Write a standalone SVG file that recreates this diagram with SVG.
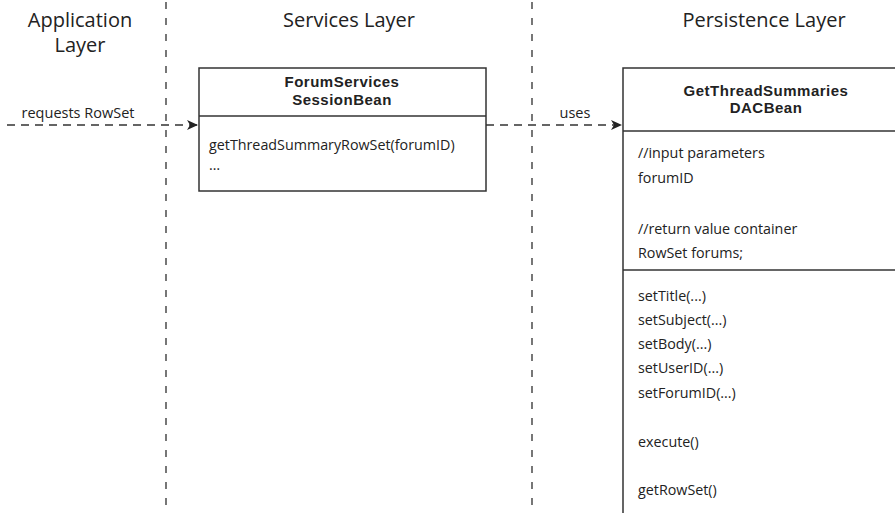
<svg xmlns="http://www.w3.org/2000/svg" width="895" height="513" viewBox="0 0 895 513">
<style>
.t{font-family:"Open Sans","Liberation Sans",sans-serif;fill:#222}
.h{font-size:20px;text-anchor:middle}
.b{font-family:"Liberation Sans",Arial,sans-serif;font-size:15px;font-weight:bold;text-anchor:middle;letter-spacing:0.5px}
.m{font-size:14.3px}
.lbl{font-size:14.5px}
.lane{stroke:#555;stroke-width:1.6;stroke-dasharray:7 9;fill:none}
.box{fill:#fff;stroke:#333;stroke-width:1.5}
.div{stroke:#333;stroke-width:1.5}
.con{stroke:#333;stroke-width:1.5;stroke-dasharray:8 6;fill:none}
</style>
<defs>
<marker id="ah" markerWidth="12" markerHeight="10" refX="11" refY="5" orient="auto" markerUnits="userSpaceOnUse">
<path d="M0,0 L11,5 L0,10 L3,5 z" fill="#222"/>
</marker>
</defs>
<g id="lanes">
<line class="lane" x1="166" y1="2" x2="166" y2="513"/>
<line class="lane" x1="532" y1="2" x2="532" y2="513"/>
<text class="t h" x="80" y="27"><tspan x="80" y="27">Application</tspan><tspan x="80" y="52">Layer</tspan></text>
<text class="t h" x="349" y="27">Services Layer</text>
<text class="t h" x="764" y="27">Persistence Layer</text>
</g>
<g id="forumServices">
<rect class="box" x="199" y="68" width="287" height="123"/>
<line class="div" x1="199" y1="116" x2="486" y2="116"/>
<text class="t b"><tspan x="342" y="87">ForumServices</tspan><tspan x="342" y="104.5">SessionBean</tspan></text>
<text class="t m" x="209" y="150">getThreadSummaryRowSet(forumID)</text>
<text class="t m" x="209" y="170">…</text>
</g>
<g id="dacBean">
<path class="box" d="M623,513 L623,68 L897,68 L897,513"/>
<line class="div" x1="623" y1="131" x2="897" y2="131"/>
<line class="div" x1="623" y1="270" x2="897" y2="270"/>
<text class="t b"><tspan x="766" y="95.5">GetThreadSummaries</tspan><tspan x="766" y="113">DACBean</tspan></text>
<text class="t m" x="638" y="158">//input parameters</text>
<text class="t m" x="638" y="183">forumID</text>
<text class="t m" x="638" y="234">//return value container</text>
<text class="t m" x="638" y="258">RowSet forums;</text>
<text class="t m" x="638" y="301">setTitle(...)</text>
<text class="t m" x="638" y="325">setSubject(...)</text>
<text class="t m" x="638" y="349">setBody(...)</text>
<text class="t m" x="638" y="373">setUserID(...)</text>
<text class="t m" x="638" y="398">setForumID(...)</text>
<text class="t m" x="638" y="447">execute()</text>
<text class="t m" x="638" y="495">getRowSet()</text>
</g>
<g id="connectors">
<line class="con" x1="7" y1="125" x2="198" y2="125" marker-end="url(#ah)"/>
<text class="t lbl" x="78" y="118" text-anchor="middle">requests RowSet</text>
<line class="con" x1="486" y1="125" x2="622" y2="125" marker-end="url(#ah)"/>
<text class="t lbl" x="575" y="118" text-anchor="middle">uses</text>
</g>
</svg>
